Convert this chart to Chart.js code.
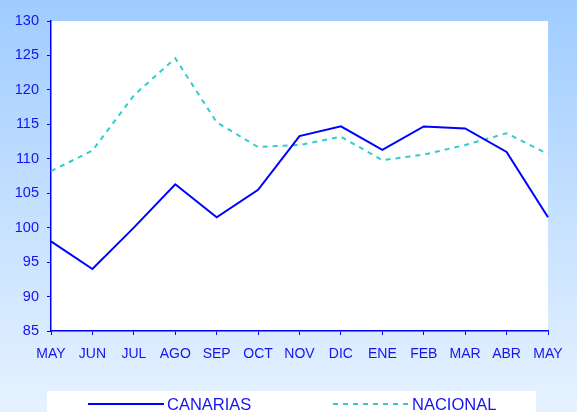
<!DOCTYPE html>
<html>
<head>
<meta charset="utf-8">
<script src="https://cdn.jsdelivr.net/npm/chart.js@4.4.0/dist/chart.umd.min.js"></script>
<style>
  html, body { margin: 0; padding: 0; }
  body { width: 577px; height: 412px; overflow: hidden;
         background: linear-gradient(to bottom, #9fccff 0%, #c4e0ff 50%, #e6f2ff 100%); }
  #wrap { position: relative; width: 577px; height: 412px; }
</style>
</head>
<body>
<div id="wrap"><canvas id="chart" width="577" height="412"></canvas></div>
<script>
// months on the x axis
const months = ['MAY', 'JUN', 'JUL', 'AGO', 'SEP', 'OCT', 'NOV', 'DIC', 'ENE', 'FEB', 'MAR', 'ABR', 'MAY'];
// series
const canarias = [98.0, 94.0, 100.0, 106.3, 101.5, 105.5, 113.3, 114.7, 111.3, 114.7, 114.4, 111.0, 101.5];
const nacional = [108.2, 111.2, 119.2, 124.6, 115.3, 111.7, 112.0, 113.2, 109.8, 110.6, 112.0, 113.7, 110.7];
const yMin = 85, yMax = 130, yStep = 5;

const blue = '#0000ff';
const textBlue = '#1414f0';
const font = 'Liberation Sans, Arial, sans-serif';

// white plot area + legend box
const paperPlugin = {
    id: 'paper',
    beforeDraw(chart) {
        const { ctx, chartArea: a } = chart;
        ctx.save();
        ctx.fillStyle = '#ffffff';
        ctx.fillRect(a.left, a.top, a.right - a.left, a.bottom - a.top);
        ctx.restore();
    },
    afterDraw(chart) {
        const ctx = chart.ctx;
        ctx.save();
        ctx.fillStyle = '#ffffff';
        ctx.fillRect(47, 391, 489, 30);
        const items = [
            { x: 88, ds: chart.data.datasets[0] },
            { x: 333, ds: chart.data.datasets[1] }
        ];
        items.forEach(it => {
            ctx.beginPath();
            ctx.strokeStyle = it.ds.borderColor;
            ctx.lineWidth = 2;
            ctx.setLineDash(it.ds.borderDash || []);
            ctx.moveTo(it.x, 404);
            ctx.lineTo(it.x + 76, 404);
            ctx.stroke();
            ctx.setLineDash([]);
            ctx.fillStyle = textBlue;
            ctx.font = '16.5px ' + font;
            ctx.textBaseline = 'middle';
            ctx.fillText(it.ds.label, it.x + 79, 405);
        });
        ctx.restore();
    }
};

new Chart(document.getElementById('chart').getContext('2d'), {
    type: 'line',
    data: {
        labels: months,
        datasets: [{
            label: 'CANARIAS',
            data: canarias,
            borderColor: blue,
            borderWidth: 2,
            pointRadius: 0,
            tension: 0
        }, {
            label: 'NACIONAL',
            data: nacional,
            borderColor: '#33cccc',
            borderWidth: 2,
            borderDash: [5, 5],
            pointRadius: 0,
            tension: 0
        }]
    },
    options: {
        responsive: false,
        animation: false,
        layout: { padding: { left: 0, top: 21, right: 29, bottom: 0 } },
        plugins: { legend: { display: false }, tooltip: { enabled: false } },
        scales: {
            x: {
                offset: false,
                afterFit: s => { s.height = 81; },
                grid: { display: true, drawOnChartArea: false, drawTicks: true, tickLength: 4, color: blue },
                border: { color: blue, width: 1.5 },
                ticks: { color: textBlue, font: { family: font, size: 14 }, padding: 11, autoSkip: false, maxRotation: 0 }
            },
            y: {
                min: yMin,
                max: yMax,
                afterFit: s => { s.width = 51; },
                grid: { display: true, drawOnChartArea: false, drawTicks: true, tickLength: 4, color: blue },
                border: { color: blue, width: 1.5 },
                ticks: { stepSize: yStep, color: textBlue, font: { family: font, size: 14.5 }, padding: 8 }
            }
        }
    },
    plugins: [paperPlugin]
});
</script>
</body>
</html>
